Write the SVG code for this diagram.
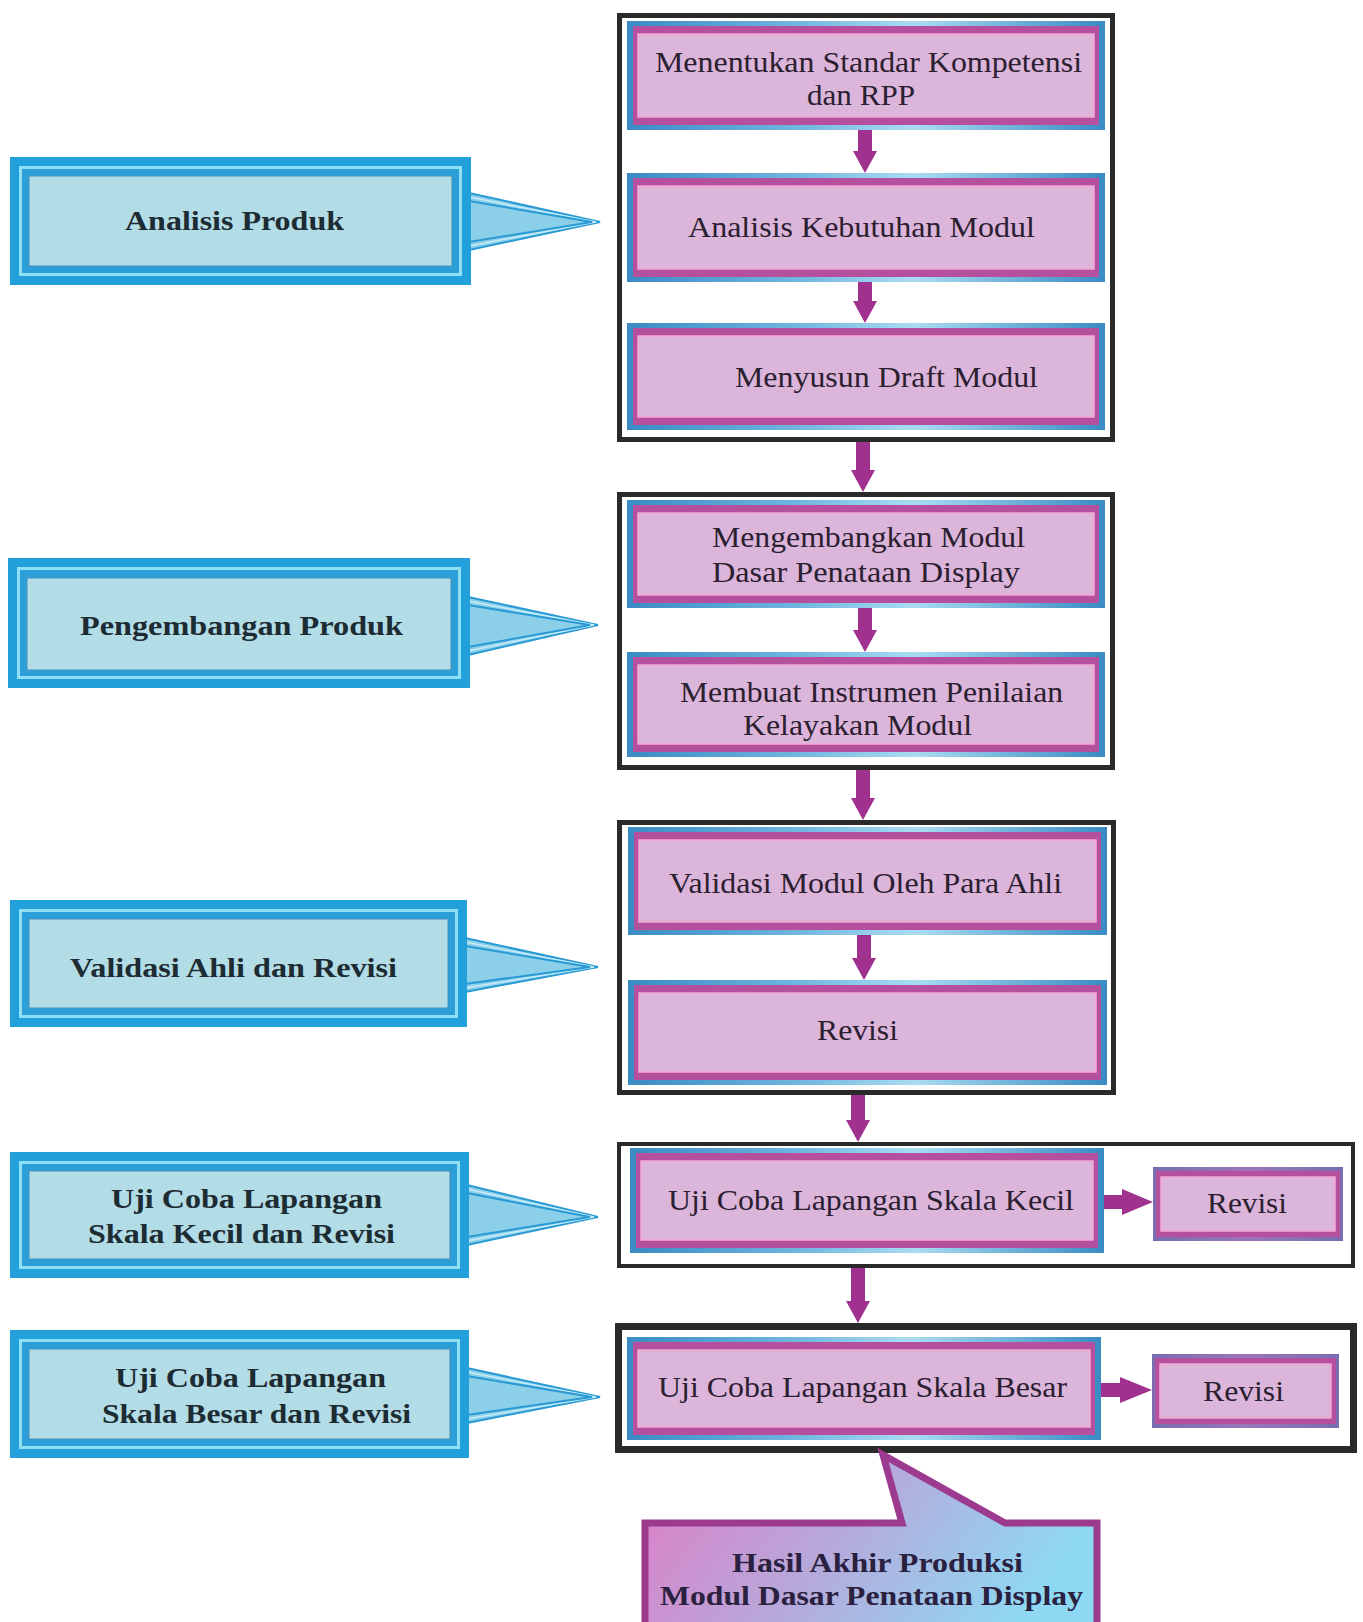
<svg xmlns="http://www.w3.org/2000/svg" width="1363" height="1622" viewBox="0 0 1363 1622">
<defs>
<linearGradient id="gBlue" x1="0" y1="0" x2="1" y2="0">
<stop offset="0" stop-color="#3a8bc4"/><stop offset="0.35" stop-color="#6fb5df"/><stop offset="0.6" stop-color="#a9dcf2"/><stop offset="1" stop-color="#3a8bc4"/>
</linearGradient>
<linearGradient id="gRev" x1="0" y1="0" x2="1" y2="0">
<stop offset="0" stop-color="#7a6db2"/><stop offset="0.5" stop-color="#9a77b8"/><stop offset="1" stop-color="#7a6db2"/>
</linearGradient>
<linearGradient id="gFinal" x1="0" y1="0" x2="1" y2="0.3">
<stop offset="0" stop-color="#e07cc6"/><stop offset="0.5" stop-color="#b7a8da"/><stop offset="1" stop-color="#8fd8f3"/>
</linearGradient>
<style>
.panel{fill:#ffffff;stroke:#2a2a2a}
.nb{fill:url(#gBlue)}
.nm{fill:#b4509e}
.np{fill:#dcb5da;stroke:#f2a6d6;stroke-width:1.5}
.rb{fill:url(#gRev)}
.lb1{fill:#22a0dc}
.lb2{fill:#8fe0f5}
.lb3{fill:#2c9ed8}
.lb4{fill:#b2dce6;stroke:#4790b8;stroke-width:1}
.ptr{fill:#8ccfe8}
.pe{stroke:#2a9ad4;stroke-width:2;fill:none}
.pl{stroke:#c4ecfa;stroke-width:1.5;fill:none}
.t{font-family:"Liberation Serif","Times New Roman",serif;font-size:30px;fill:#2a2030}
.tb{font-family:"Liberation Serif","Times New Roman",serif;font-size:28px;font-weight:bold;fill:#1d2b33}
.arr{fill:#a0318f}
</style>
</defs>
<rect x="0" y="0" width="1363" height="1622" fill="#ffffff"/>

<!-- panels -->
<g id="panels">
<rect class="panel" x="619.5" y="15.5" width="493" height="424" stroke-width="5"/>
<rect class="panel" x="619.5" y="494.5" width="493" height="273" stroke-width="5"/>
<rect class="panel" x="619.5" y="822.5" width="494" height="270" stroke-width="5"/>
<rect class="panel" x="619" y="1144" width="734" height="122" stroke-width="4"/>
<rect class="panel" x="618.5" y="1326.5" width="735" height="123" stroke-width="7"/>
</g>

<!-- left stage boxes -->
<g id="stage-analisis">
<polygon class="ptr" points="469,193 600,222 469,250"/>
<polyline class="pe" points="469,193 600,222 469,250"/>
<polyline class="pl" points="469,197 596,222 469,246"/>
<polyline class="pe" points="469,201 592,222 469,242"/>
<rect class="lb1" x="10" y="157" width="461" height="128"/>
<rect class="lb2" x="19" y="166" width="443" height="110"/>
<rect class="lb3" x="22" y="169" width="437" height="104"/>
<rect class="lb4" x="29" y="176" width="423" height="90"/>
<text class="tb" x="125" y="230" textLength="219" lengthAdjust="spacingAndGlyphs">Analisis Produk</text>
</g>

<g id="stage-pengembangan">
<polygon class="ptr" points="468,597 598,625 468,655"/>
<polyline class="pe" points="468,597 598,625 468,655"/>
<polyline class="pl" points="468,601 594,625 468,651"/>
<polyline class="pe" points="468,605 590,625 468,647"/>
<rect class="lb1" x="8" y="558" width="462" height="130"/>
<rect class="lb2" x="17" y="567" width="444" height="112"/>
<rect class="lb3" x="20" y="570" width="438" height="106"/>
<rect class="lb4" x="27" y="578" width="424" height="92"/>
<text class="tb" x="80" y="635" textLength="323" lengthAdjust="spacingAndGlyphs">Pengembangan Produk</text>
</g>

<g id="stage-validasi">
<polygon class="ptr" points="465,938 598,967 465,992"/>
<polyline class="pe" points="465,938 598,967 465,992"/>
<polyline class="pl" points="465,942 594,967 465,988"/>
<polyline class="pe" points="465,946 590,967 465,984"/>
<rect class="lb1" x="10" y="900" width="457" height="127"/>
<rect class="lb2" x="19" y="909" width="439" height="109"/>
<rect class="lb3" x="22" y="912" width="433" height="103"/>
<rect class="lb4" x="29" y="919" width="419" height="89"/>
<text class="tb" x="70" y="977" textLength="327" lengthAdjust="spacingAndGlyphs">Validasi Ahli dan Revisi</text>
</g>

<g id="stage-uji-kecil">
<polygon class="ptr" points="467,1185 598,1217 467,1245"/>
<polyline class="pe" points="467,1185 598,1217 467,1245"/>
<polyline class="pl" points="467,1189 594,1217 467,1241"/>
<polyline class="pe" points="467,1193 590,1217 467,1237"/>
<rect class="lb1" x="10" y="1152" width="459" height="126"/>
<rect class="lb2" x="19" y="1161" width="441" height="108"/>
<rect class="lb3" x="22" y="1164" width="435" height="102"/>
<rect class="lb4" x="29" y="1171" width="421" height="88"/>
<text class="tb" x="111" y="1208" textLength="271" lengthAdjust="spacingAndGlyphs">Uji Coba Lapangan</text>
<text class="tb" x="88" y="1243" textLength="307" lengthAdjust="spacingAndGlyphs">Skala Kecil dan Revisi</text>
</g>

<g id="stage-uji-besar">
<polygon class="ptr" points="467,1368 600,1397 467,1423"/>
<polyline class="pe" points="467,1368 600,1397 467,1423"/>
<polyline class="pl" points="467,1372 596,1397 467,1419"/>
<polyline class="pe" points="467,1376 592,1397 467,1415"/>
<rect class="lb1" x="10" y="1330" width="459" height="128"/>
<rect class="lb2" x="19" y="1339" width="441" height="110"/>
<rect class="lb3" x="22" y="1342" width="435" height="104"/>
<rect class="lb4" x="29" y="1349" width="421" height="90"/>
<text class="tb" x="115" y="1387" textLength="271" lengthAdjust="spacingAndGlyphs">Uji Coba Lapangan</text>
<text class="tb" x="102" y="1423" textLength="309" lengthAdjust="spacingAndGlyphs">Skala Besar dan Revisi</text>
</g>

<!-- process nodes -->
<g id="n1">
<rect class="nb" x="627" y="21" width="478" height="109"/>
<rect class="nm" x="633" y="26" width="466" height="99"/>
<rect class="np" x="638" y="34" width="456" height="83"/>
<text class="t" x="655" y="72" textLength="427" lengthAdjust="spacingAndGlyphs">Menentukan Standar Kompetensi</text>
<text class="t" x="807" y="105" textLength="108" lengthAdjust="spacingAndGlyphs">dan RPP</text>
</g>
<g id="n2">
<rect class="nb" x="627" y="173" width="478" height="109"/>
<rect class="nm" x="633" y="178" width="466" height="99"/>
<rect class="np" x="638" y="186" width="456" height="83"/>
<text class="t" x="688" y="237" textLength="347" lengthAdjust="spacingAndGlyphs">Analisis Kebutuhan Modul</text>
</g>
<g id="n3">
<rect class="nb" x="627" y="323" width="478" height="107"/>
<rect class="nm" x="633" y="328" width="466" height="97"/>
<rect class="np" x="638" y="336" width="456" height="81"/>
<text class="t" x="735" y="387" textLength="303" lengthAdjust="spacingAndGlyphs">Menyusun Draft Modul</text>
</g>
<g id="n4">
<rect class="nb" x="627" y="500" width="478" height="108"/>
<rect class="nm" x="633" y="505" width="466" height="98"/>
<rect class="np" x="638" y="513" width="456" height="82"/>
<text class="t" x="712" y="547" textLength="313" lengthAdjust="spacingAndGlyphs">Mengembangkan Modul</text>
<text class="t" x="712" y="582" textLength="308" lengthAdjust="spacingAndGlyphs">Dasar Penataan Display</text>
</g>
<g id="n5">
<rect class="nb" x="627" y="652" width="478" height="105"/>
<rect class="nm" x="633" y="657" width="466" height="95"/>
<rect class="np" x="638" y="665" width="456" height="79"/>
<text class="t" x="680" y="702" textLength="383" lengthAdjust="spacingAndGlyphs">Membuat Instrumen Penilaian</text>
<text class="t" x="743" y="735" textLength="229" lengthAdjust="spacingAndGlyphs">Kelayakan Modul</text>
</g>
<g id="n6">
<rect class="nb" x="628" y="827" width="479" height="108"/>
<rect class="nm" x="634" y="832" width="467" height="98"/>
<rect class="np" x="639" y="840" width="457" height="82"/>
<text class="t" x="669" y="893" textLength="393" lengthAdjust="spacingAndGlyphs">Validasi Modul Oleh Para Ahli</text>
</g>
<g id="n7">
<rect class="nb" x="628" y="980" width="479" height="105"/>
<rect class="nm" x="634" y="985" width="467" height="95"/>
<rect class="np" x="639" y="993" width="457" height="79"/>
<text class="t" x="817" y="1040" textLength="81" lengthAdjust="spacingAndGlyphs">Revisi</text>
</g>
<g id="n8">
<rect class="nb" x="630" y="1148" width="474" height="105"/>
<rect class="nm" x="636" y="1153" width="462" height="95"/>
<rect class="np" x="641" y="1161" width="452" height="79"/>
<text class="t" x="668" y="1210" textLength="406" lengthAdjust="spacingAndGlyphs">Uji Coba Lapangan Skala Kecil</text>
</g>
<g id="n8r">
<rect class="rb" x="1153" y="1167" width="190" height="74"/>
<rect class="nm" x="1156" y="1171" width="184" height="66"/>
<rect class="np" x="1161" y="1177" width="174" height="54"/>
<text class="t" x="1207" y="1213" textLength="80" lengthAdjust="spacingAndGlyphs">Revisi</text>
</g>
<g id="n9">
<rect class="nb" x="627" y="1337" width="474" height="103"/>
<rect class="nm" x="633" y="1342" width="462" height="93"/>
<rect class="np" x="638" y="1350" width="452" height="77"/>
<text class="t" x="658" y="1397" textLength="409" lengthAdjust="spacingAndGlyphs">Uji Coba Lapangan Skala Besar</text>
</g>
<g id="n9r">
<rect class="rb" x="1152" y="1354" width="187" height="74"/>
<rect class="nm" x="1155" y="1358" width="181" height="66"/>
<rect class="np" x="1160" y="1364" width="171" height="54"/>
<text class="t" x="1203" y="1401" textLength="81" lengthAdjust="spacingAndGlyphs">Revisi</text>
</g>

<!-- final result callout -->
<g id="final">
<path d="M645 1523 H902 L883 1455 L1005 1523 H1097 V1640 H645 Z" fill="url(#gFinal)" stroke="#9b3a8f" stroke-width="7" stroke-linejoin="miter"/>
<text class="tb" x="732" y="1572" textLength="291" lengthAdjust="spacingAndGlyphs" style="fill:#2a2040">Hasil Akhir Produksi</text>
<text class="tb" x="660" y="1605" textLength="423" lengthAdjust="spacingAndGlyphs" style="fill:#2a2040">Modul Dasar Penataan Display</text>
</g>

<!-- connectors -->
<g id="connectors">
<path class="arr" d="M858 130 H872 V151 H877 L865 173 L853 151 H858 Z"/>
<path class="arr" d="M858 282 H872 V301 H877 L865 323 L853 301 H858 Z"/>
<path class="arr" d="M856 442 H870 V470 H875 L863 492 L851 470 H856 Z"/>
<path class="arr" d="M858 608 H872 V630 H877 L865 652 L853 630 H858 Z"/>
<path class="arr" d="M856 770 H870 V798 H875 L863 820 L851 798 H856 Z"/>
<path class="arr" d="M857 935 H871 V958 H876 L864 980 L852 958 H857 Z"/>
<path class="arr" d="M851 1095 H865 V1120 H870 L858 1142 L846 1120 H851 Z"/>
<path class="arr" d="M851 1268 H865 V1301 H870 L858 1323 L846 1301 H851 Z"/>
<path class="arr" d="M1104 1195 H1122 V1189 L1153 1202 L1122 1215 V1209 H1104 Z"/>
<path class="arr" d="M1101 1383 H1120 V1377 L1152 1390 L1120 1403 V1397 H1101 Z"/>
</g>
</svg>
